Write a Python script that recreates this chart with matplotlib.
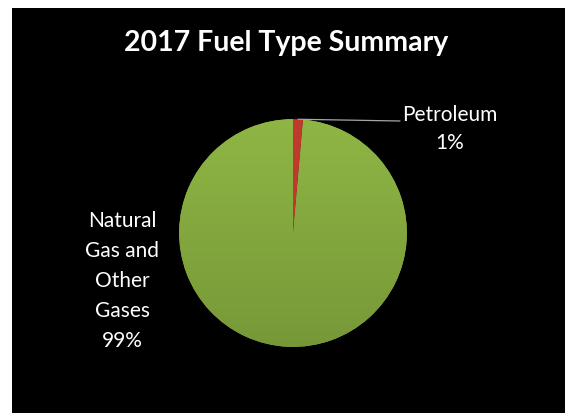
import matplotlib
matplotlib.use("Agg")
import matplotlib.pyplot as plt
import numpy as np
from matplotlib.colors import LinearSegmentedColormap
from matplotlib.patches import Rectangle

# data
fuel_types = ["Petroleum", "Natural\nGas and\nOther\nGases"]
shares = [1.4, 98.6]
slice_colors = ["#c0392f", "#8bb142"]
title = "2017 Fuel Type Summary"

W, H = 572, 413
fig = plt.figure(figsize=(W / 100, H / 100), dpi=100, facecolor="white")

# black chart area (white margin left/top/right)
fig.patches.append(Rectangle((12 / W, 0), (565 - 12) / W, (H - 8) / H,
                             transform=fig.transFigure, facecolor="black",
                             edgecolor="none", zorder=-5))

cx, cy, r = 293, 233, 115
ax = fig.add_axes([(cx - r) / W, (H - cy - r) / H, 2 * r / W, 2 * r / H])
ax.set_facecolor("none")
ax.axis("off")

wedges, _ = ax.pie(shares, colors=slice_colors, startangle=90, counterclock=False,
                   wedgeprops=dict(edgecolor="none"))

# soft vertical shading on the green slice, like the original
shade = LinearSegmentedColormap.from_list("g", ["#779838", "#8fb644"])
grad = np.linspace(0, 1, 256).reshape(-1, 1)
im = ax.imshow(grad, extent=(-1, 1, -1, 1), origin="lower", cmap=shade,
               aspect="auto", zorder=1.5)
im.set_clip_path(wedges[1])
wedges[0].set_zorder(2)
ax.set_xlim(-1.01, 1.01)
ax.set_ylim(-1.01, 1.01)

font = "Lato"
fig.text(286 / W, 1 - 43 / H, title, ha="center", va="center", color="white",
         fontsize=20.5, fontweight="bold", family=font)

# petroleum label with leader line
pct = [f"{round(s)}%" for s in shares]
ang = np.deg2rad(90 - shares[0] * 3.6 / 2)
ax.annotate("", xy=(np.cos(ang) * 1.0, np.sin(ang) * 1.0),
            xytext=(400 / W, 1 - 121 / H), textcoords="figure fraction",
            arrowprops=dict(arrowstyle="-", color="#a6a6a6", lw=0.9,
                            shrinkA=0, shrinkB=0))
fig.text(450 / W, 1 - 129 / H, fuel_types[0] + "\n" + pct[0], ha="center",
         va="center", color="white", fontsize=15, family=font, linespacing=1.5)

fig.text(122 / W, 1 - 281 / H, fuel_types[1] + "\n" + pct[1], ha="center",
         va="center", color="white", fontsize=15, family=font, linespacing=1.64)

fig.savefig("out.png", dpi=100, facecolor="white")
